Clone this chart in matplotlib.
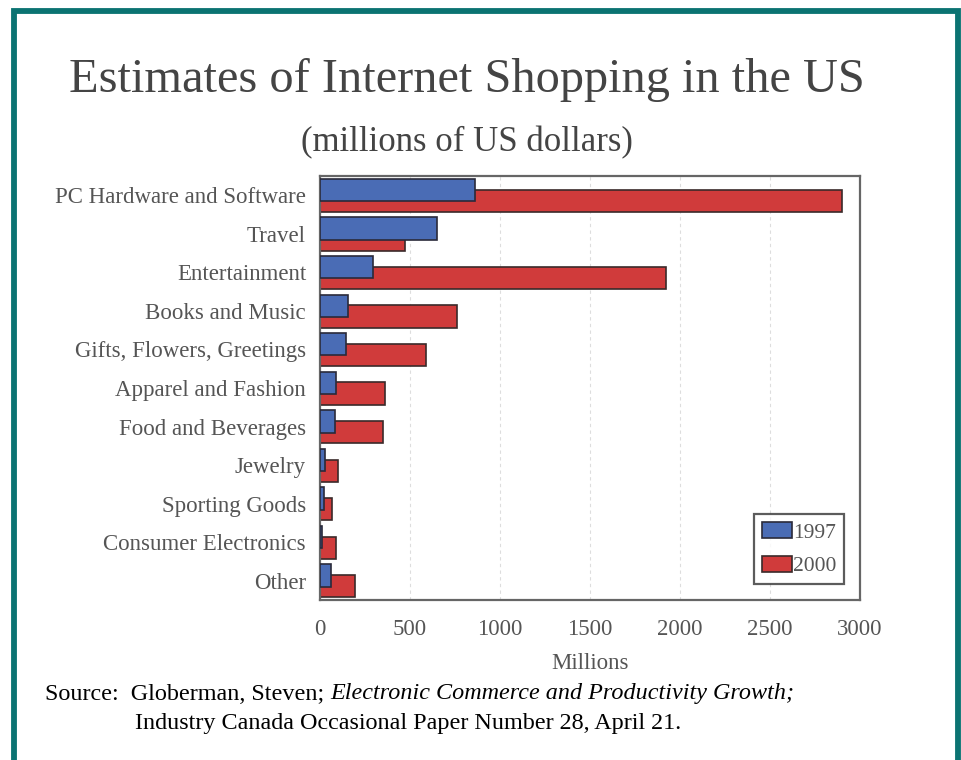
import numpy as np
import matplotlib
matplotlib.use("Agg")
import matplotlib.pyplot as plt
from matplotlib.patches import Rectangle

# Internet shopping estimates, millions of US dollars
categories = [
    "PC Hardware and Software",
    "Travel",
    "Entertainment",
    "Books and Music",
    "Gifts, Flowers, Greetings",
    "Apparel and Fashion",
    "Food and Beverages",
    "Jewelry",
    "Sporting Goods",
    "Consumer Electronics",
    "Other",
]
sales_1997 = [860, 650, 295, 155, 145, 90, 85, 30, 20, 10, 60]
sales_2000 = [2900, 470, 1920, 760, 590, 360, 350, 100, 65, 90, 195]
years = ["1997", "2000"]
x_ticks = [0, 500, 1000, 1500, 2000, 2500, 3000]

BLUE = "#4a6cb5"
RED = "#d03b3b"
TEAL = "#0b7372"
GREY_TEXT = "#555555"

plt.rcParams["font.family"] = ["Liberation Serif", "DejaVu Serif"]

fig = plt.figure(figsize=(9.62, 7.6), dpi=100)
fig.patch.set_facecolor("white")

# teal frame around the page (open at the bottom)
fig.add_artist(Rectangle((14.5 / 962, -0.05), 944 / 962, 1 - 10.5 / 760 + 0.05,
                         transform=fig.transFigure, fill=False,
                         edgecolor=TEAL, linewidth=4.2))

ax = fig.add_axes([320 / 962, 1 - 600 / 760, 540 / 962, 424 / 760])

y = np.arange(len(categories))
h = 0.58
# 2000 drawn first so the 1997 bars overlap it
ax.barh(y + 0.145, sales_2000, height=h, color=RED, edgecolor="#3a2a2a",
        linewidth=1.2, label=years[1], zorder=2)
ax.barh(y - 0.135, sales_1997, height=h, color=BLUE, edgecolor="#2a2a3a",
        linewidth=1.2, label=years[0], zorder=3)

ax.set_xlim(0, 3000)
ax.set_ylim(len(categories) - 0.5, -0.5)
ax.set_xticks(x_ticks)
ax.set_xticklabels([str(t) for t in x_ticks], fontsize=16.5, color=GREY_TEXT)
ax.set_yticks(y)
ax.set_yticklabels(categories, fontsize=16.5, color=GREY_TEXT)
ax.tick_params(axis="y", length=0, pad=10)
ax.tick_params(axis="x", length=0, pad=14)
ax.set_xlabel("Millions", fontsize=16.5, color=GREY_TEXT, labelpad=9)

ax.grid(axis="x", color="#dddddd", linestyle=(0, (3, 3)), linewidth=0.8, zorder=0)
ax.set_axisbelow(True)
for s in ax.spines.values():
    s.set_color("#666666")
    s.set_linewidth(1.6)

handles, labels = ax.get_legend_handles_labels()
leg = ax.legend(handles[::-1], labels[::-1], loc="lower right",
                bbox_to_anchor=(1.0, 0.0), borderaxespad=0.75,
                fontsize=15.5, frameon=True, fancybox=False,
                handlelength=1.4, handleheight=0.8, handletextpad=0.05,
                labelspacing=0.6, borderpad=0.35)
leg.get_frame().set_edgecolor("#333333")
leg.get_frame().set_linewidth(1.6)
for t in leg.get_texts():
    t.set_color(GREY_TEXT)

fig.text(0.485, 1 - 80 / 760, "Estimates of Internet Shopping in the US",
         ha="center", va="center", fontsize=34.8, color="#444444")
fig.text(0.485, 1 - 143 / 760, "(millions of US dollars)",
         ha="center", va="center", fontsize=25, color="#444444")

# source note: plain lead-in followed by the italic title
src_y = 1 - 694 / 760
lead = fig.text(45 / 962, src_y, "Source:  Globerman, Steven; ",
                ha="left", va="center", fontsize=17.4, color="black")
fig.canvas.draw()
bb = lead.get_window_extent().transformed(fig.transFigure.inverted())
fig.text(bb.x1, src_y, "Electronic Commerce and Productivity Growth;",
         ha="left", va="center", fontsize=17.4, color="black", style="italic")
fig.text(135 / 962, 1 - 724 / 760,
         "Industry Canada Occasional Paper Number 28, April 21.",
         ha="left", va="center", fontsize=17.4, color="black")

fig.savefig("out.png", dpi=100, facecolor="white")
